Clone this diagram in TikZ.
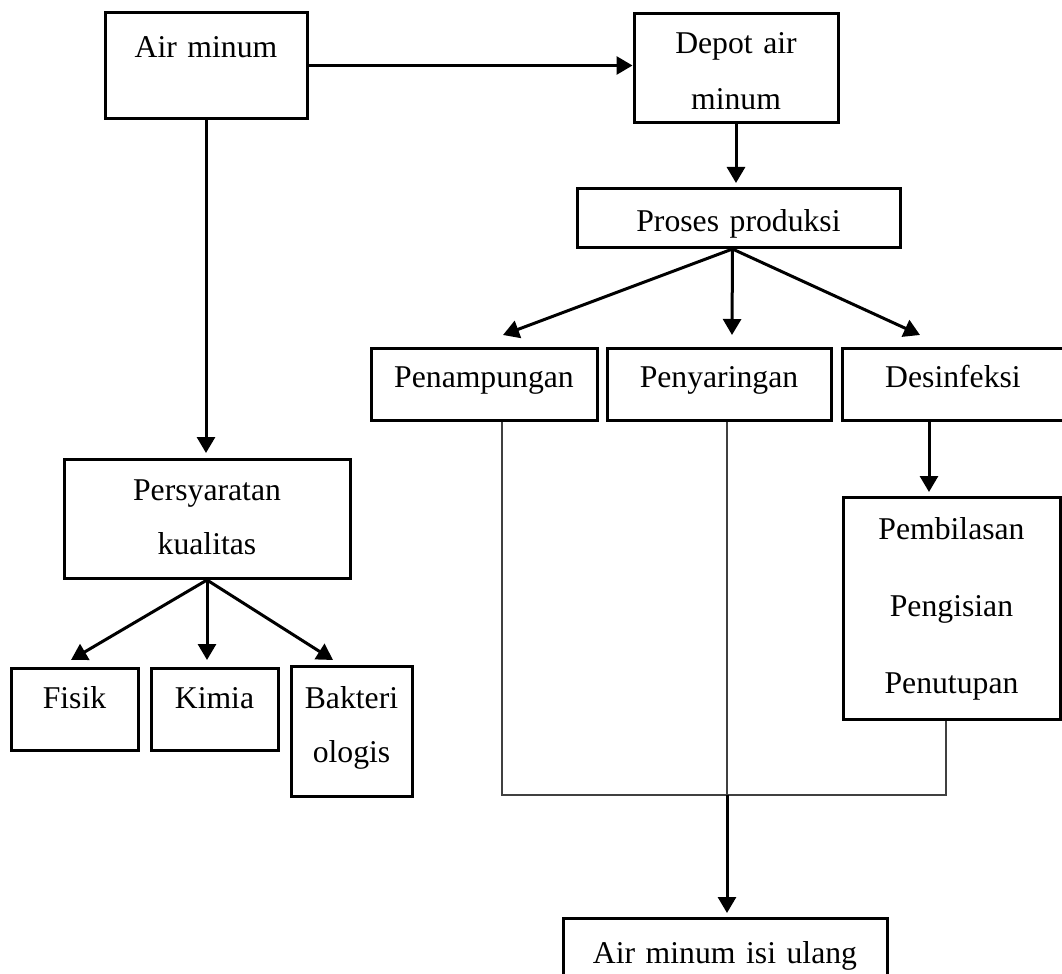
\documentclass[tikz,border=0pt]{standalone}
\usepackage{fontspec}
\setmainfont{Liberation Serif}
\usetikzlibrary{arrows.meta,calc}

\begin{document}
\begin{tikzpicture}[->,>={Triangle[length=8pt,width=9pt]},x=0.5pt,y=-0.5pt,line width=1.5pt]
\tikzstyle{kotak}=[draw=black,line width=1.5pt,anchor=north,inner sep=0pt,align=center,font=\fontsize{15.85}{27}\selectfont]
\tikzstyle{tipis}=[-,draw=black!75,line width=0.7pt]
\useasboundingbox (0,0) rectangle (1062,974);

\node[kotak] (A) [text width=101pt,text height=22.5pt,text depth=30.5pt] at (206,11) {Air minum};
\node[kotak] (B) [text width=102pt,text height=20pt,text depth=34.5pt,font=\fontsize{15.85}{28}\selectfont] at (736,12) {Depot air\\minum};
\node[kotak] (C) [text width=161.5pt,text height=21.5pt,text depth=8pt] at (738.5,187) {Proses produksi};
\node[kotak] (D) [text width=113pt,text height=19.5pt,text depth=16.5pt] at (484,347) {Penampungan};
\node[kotak] (E) [text width=112pt,text height=19.5pt,text depth=16.5pt] at (719,347) {Penyaringan};
\node[kotak] (F) [text width=111pt,text height=19.5pt,text depth=16.5pt] at (953,347) {Desinfeksi};
\node[kotak] (G) [text width=108.5pt,text height=21pt,text depth=90pt,font=\fontsize{15.85}{38.5}\selectfont] at (951.5,496) {Pembilasan\\Pengisian\\Penutupan};
\node[kotak] (H) [text width=143pt,text height=20.5pt,text depth=39pt] at (207,458) {Persyaratan\\kualitas};
\node[kotak] (I) [text width=63.5pt,text height=20pt,text depth=21pt] at (74.5,667) {Fisik};
\node[kotak] (J) [text width=63.5pt,text height=20pt,text depth=21pt] at (214.5,667) {Kimia};
\node[kotak] (K) [text width=60.5pt,text height=21pt,text depth=44pt] at (351.5,665) {Bakteri\\ologis};
\node[kotak] (L) [text width=162pt,text height=22.5pt,text depth=16.5pt] at (725,917) {Air minum isi ulang};
\coordinate (M) at (727,795);

\draw (A.east) -- (A.east -| B.west);
\draw[shorten >=2.5pt] (A.south) -- (A.south |- H.north);
\draw[shorten >=2pt] (B.south) -- (B.south |- C.north);
\draw ($(C.south)+(-6,0)$) -- ($(D.north)+(19,-12)$);
\draw ($(C.south)+(-6,0)$) -- ($(E.north)+(13,-12)$);
\draw ($(C.south)+(-6,0)$) -- ($(F.north)+(-33,-12)$);
\draw ($(F.south)+(-24,0)$) -- ($(G.north)+(-22.5,-4)$);
\draw (H.south) -- ($(I.north)+(-3.5,-7)$);
\draw[shorten >=3.5pt] (H.south) -- (H.south |- J.north);
\draw (H.south) -- ($(K.north)+(-18.5,-5)$);
\draw[tipis] ($(D.south)+(18,0)$) |- (M) -| ($(G.south)+(-5.5,0)$);
\draw[tipis] ($(E.south)+(8,0)$) -- (M);
\draw[shorten >=2pt] (M) -- (M |- L.north);
\end{tikzpicture}
\end{document}
